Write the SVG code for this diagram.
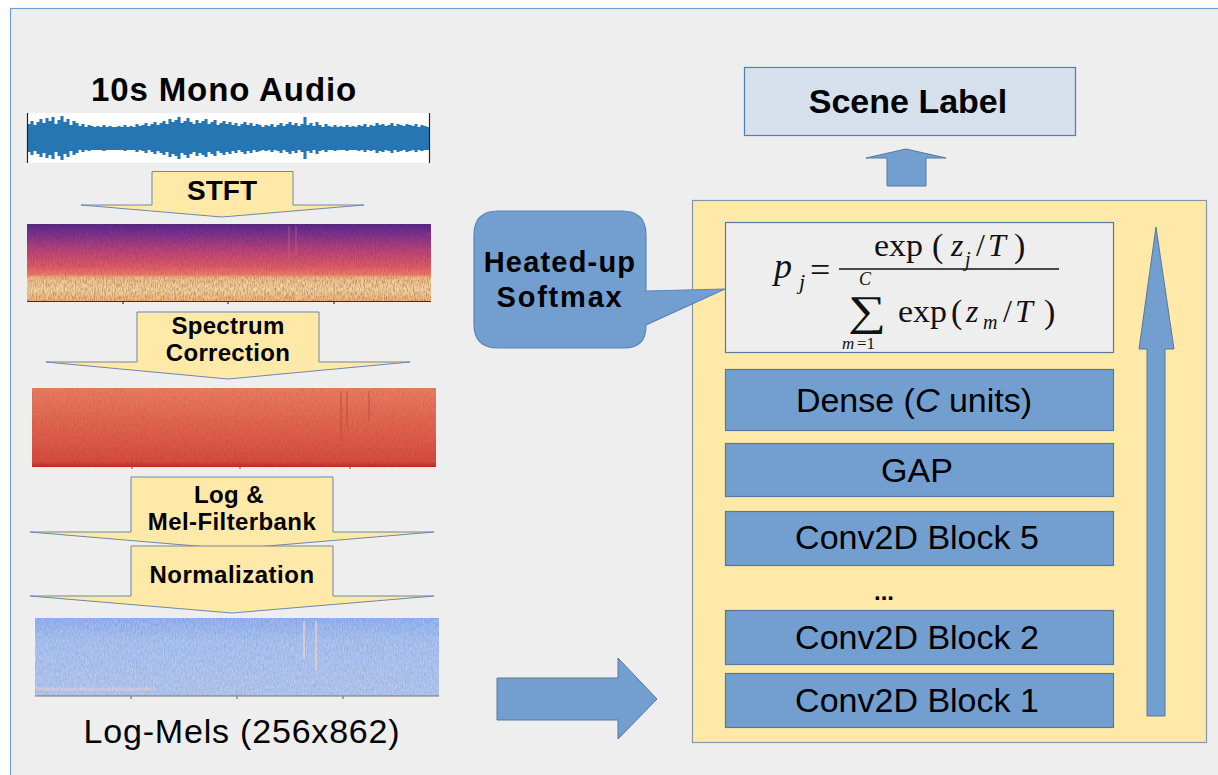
<svg xmlns="http://www.w3.org/2000/svg" width="1218" height="775" viewBox="0 0 1218 775">
<defs>
<style>
.sans{font-family:"Liberation Sans",Arial,sans-serif;fill:#000}
.b{font-weight:bold}
.ser{font-family:"Liberation Serif","Times New Roman",serif;fill:#111}
.it{font-style:italic}
.step{fill:#ffe9a9;stroke:#6f87a6;stroke-width:1}
.blk{fill:#729fcf;stroke:#56789e;stroke-width:1.2}
.conn{fill:#729fcf;stroke:#56789e;stroke-width:1}
</style>
<linearGradient id="g1" x1="0" y1="0" x2="0" y2="1">
<stop offset="0" stop-color="#5a2883"/>
<stop offset="0.12" stop-color="#7a3190"/>
<stop offset="0.35" stop-color="#bb4479"/>
<stop offset="0.55" stop-color="#de5a66"/>
<stop offset="0.66" stop-color="#ec7c66"/>
<stop offset="0.7" stop-color="#f5bd8a"/>
<stop offset="0.85" stop-color="#f8d29c"/>
<stop offset="1" stop-color="#f2b47e"/>
</linearGradient>
<linearGradient id="g2" x1="0" y1="0" x2="0" y2="1">
<stop offset="0" stop-color="#ea7c62"/>
<stop offset="0.5" stop-color="#e0624e"/>
<stop offset="0.93" stop-color="#d64c3e"/>
<stop offset="1" stop-color="#c42a2a"/>
</linearGradient>
<linearGradient id="g3" x1="0" y1="0" x2="0" y2="1">
<stop offset="0" stop-color="#8aaced"/>
<stop offset="0.3" stop-color="#a3bdf0"/>
<stop offset="1" stop-color="#abc1ee"/>
</linearGradient>
<filter id="grain" x="0" y="0" width="1" height="1">
<feTurbulence type="fractalNoise" baseFrequency="0.9 0.25" numOctaves="2" seed="4" result="n"/>
<feColorMatrix in="n" type="matrix" values="0 0 0 0 0  0 0 0 0 0  0 0 0 0 0  0 0 0 1.8 -0.7" result="a"/>
<feComposite in="a" in2="SourceGraphic" operator="in"/>
</filter>
<filter id="grainw" x="0" y="0" width="1" height="1">
<feTurbulence type="fractalNoise" baseFrequency="0.9 0.3" numOctaves="2" seed="9" result="n"/>
<feColorMatrix in="n" type="matrix" values="0 0 0 0 1  0 0 0 0 1  0 0 0 0 1  0 0 0 1.8 -0.7" result="a"/>
<feComposite in="a" in2="SourceGraphic" operator="in"/>
</filter>
</defs>

<rect x="0" y="0" width="1218" height="775" fill="#ffffff"/>
<rect x="10.5" y="8.5" width="1230" height="800" fill="#eeeeee" stroke="#729fcf" stroke-width="1.2"/>

<g id="audio">
<text class="sans b" x="224" y="101" font-size="33" text-anchor="middle" letter-spacing="0.9">10s Mono Audio</text>
<rect x="27" y="113" width="403" height="50" fill="#ffffff"/>
<rect x="29" y="127" width="400" height="23" fill="#2676b3"/>
<path stroke="#2676b3" stroke-width="3.1" fill="none" d="M29 124v28M32 121v34M35 125v26M38 122v32M41 119v38M44 123v30M47 118v40M50 121v34M53 117v42M56 124v28M59 120v36M62 116v44M65 122v32M68 119v38M71 125v26M74 121v34M77 123v30M80 126v24M83 124v28M86 127v22M89 125v26M92 126v24M95 128v20M98 126v24M101 127v22M104 125v26M107 128v20M110 126v24M113 127v22M116 128v20M119 126v24M122 127v22M125 125v26M128 128v20M131 126v24M134 127v22M137 124v28M140 126v24M143 125v26M146 123v30M149 126v24M152 124v28M155 122v32M158 125v26M161 123v30M164 121v34M167 124v28M170 119v38M173 122v32M176 120v36M179 117v42M182 123v30M185 121v34M188 118v40M191 122v32M194 124v28M197 120v36M200 123v30M203 121v34M206 119v38M209 124v28M212 122v32M215 120v36M218 125v26M221 123v30M224 121v34M227 124v28M230 122v32M233 125v26M236 123v30M239 126v24M242 124v28M245 122v32M248 125v26M251 123v30M254 126v24M257 124v28M260 125v26M263 127v22M266 125v26M269 126v24M272 124v28M275 127v22M278 125v26M281 123v30M284 126v24M287 124v28M290 122v32M293 125v26M296 123v30M299 126v24M302 124v28M305 117v42M308 125v26M311 123v30M314 126v24M317 122v32M320 125v26M323 127v22M326 124v28M329 126v24M332 127v22M335 125v26M338 128v20M341 126v24M344 127v22M347 125v26M350 128v20M353 126v24M356 127v22M359 125v26M362 126v24M365 124v28M368 127v22M371 125v26M374 126v24M377 123v30M380 125v26M383 124v28M386 126v24M389 125v26M392 123v30M395 126v24M398 124v28M401 125v26M404 126v24M407 124v28M410 125v26M413 126v24M416 124v28M419 127v22M422 125v26M425 126v24M428 128v20"/>
<path d="M27.5 113v50M429.5 113v50" stroke="#222" stroke-width="1.2"/>
</g>

<g id="stft">
<polygon class="step" points="152,171.5 293,171.5 293,205 364,205 222,217 81,205 152,205"/>
<text class="sans b" x="222" y="200" font-size="28" text-anchor="middle">STFT</text>
</g>

<g id="spectrogram">
<rect x="27" y="224" width="404" height="77" fill="url(#g1)"/>
<rect x="27" y="224" width="404" height="77" fill="#300030" opacity="0.16" filter="url(#grain)"/>
<rect x="27" y="277" width="404" height="24" fill="#c04040" opacity="0.2" filter="url(#grain)"/>
<path d="M289 226v40M296 226v30" stroke="#d06070" stroke-width="1.5" opacity="0.5"/>
<path d="M27 301.5h404M123 301v3M228 301v3M334 301v3" stroke="#333" stroke-width="1.2"/>
</g>

<g id="correction">
<polygon class="step" points="137,312 319,312 319,362 410,362 228,379 46,362 137,362"/>
<text class="sans b" x="228" y="334" font-size="24" text-anchor="middle" letter-spacing="0.3">Spectrum</text>
<text class="sans b" x="228" y="361" font-size="24" text-anchor="middle" letter-spacing="0.3">Correction</text>
</g>

<g id="corrected">
<rect x="32" y="388" width="404" height="79" fill="url(#g2)"/>
<rect x="32" y="388" width="404" height="79" fill="#8a1010" opacity="0.1" filter="url(#grain)"/>
<path d="M341 391v50M347 391v35M369 391v30" stroke="#b84034" stroke-width="2" opacity="0.35"/>
<path d="M132 467v2M240 467v2M350 467v2" stroke="#555" stroke-width="1"/>
</g>

<g id="logmel-step">
<polygon class="step" points="131,477 333,477 333,532 434,532 232,549 30,532 131,532"/>
<text class="sans b" x="229" y="503" font-size="24" text-anchor="middle" letter-spacing="0.4">Log &amp;</text>
<text class="sans b" x="232" y="530" font-size="24" text-anchor="middle" letter-spacing="0.4">Mel-Filterbank</text>
</g>

<g id="normalization">
<polygon class="step" points="131,546 333,546 333,596 434,596 232,613 30,596 131,596"/>
<text class="sans b" x="232" y="583" font-size="24" text-anchor="middle" letter-spacing="0.5">Normalization</text>
</g>

<g id="logmels">
<rect x="35" y="618" width="404" height="78" fill="url(#g3)"/>
<rect x="35" y="618" width="404" height="78" fill="#fff" opacity="0.3" filter="url(#grainw)"/>
<rect x="35" y="618" width="404" height="78" fill="#2050c0" opacity="0.1" filter="url(#grain)"/>
<path d="M304 621v38M316 621v50" stroke="#f0d0c0" stroke-width="2" opacity="0.7"/>
<path d="M36 689h120" stroke="#e8cfc8" stroke-width="3" opacity="0.5"/>
<path d="M35 696h404M131 696v3M237 696v3M343 696v3" stroke="#777" stroke-width="1.2"/>
<text class="sans" x="242" y="743" font-size="34" text-anchor="middle" letter-spacing="0.8">Log-Mels (256x862)</text>
</g>

<g id="model">
<rect x="692.5" y="200.5" width="514" height="542" fill="#ffe9a9" stroke="#8797ab" stroke-width="1.2"/>
</g>

<g id="formula">
<rect x="725.5" y="222.5" width="388" height="130" fill="#eeeeee" stroke="#5d7896" stroke-width="1.2"/>
<text class="ser it" x="774" y="278" font-size="36">p</text>
<text class="ser it" x="799" y="289" font-size="22">j</text>
<text class="ser" x="810" y="282" font-size="36">=</text>
<line x1="839" y1="269" x2="1059" y2="269" stroke="#111" stroke-width="1.4"/>
<text class="ser" x="874" y="256" font-size="32" textLength="49" lengthAdjust="spacingAndGlyphs">exp</text>
<text class="ser" x="932" y="257" font-size="34">(</text>
<text class="ser it" x="951" y="256" font-size="32">z</text>
<text class="ser it" x="965" y="266" font-size="20">j</text>
<text class="ser" x="976" y="256" font-size="32">/</text>
<text class="ser it" x="988" y="256" font-size="32">T</text>
<text class="ser" x="1014" y="257" font-size="34">)</text>
<text class="ser it" x="859" y="285" font-size="18">C</text>
<text class="ser" x="848" y="325" font-size="42" textLength="38" lengthAdjust="spacingAndGlyphs">∑</text>
<text class="ser it" x="842" y="349" font-size="17">m</text>
<text class="ser" x="857" y="349" font-size="17">=1</text>
<text class="ser" x="898" y="322" font-size="32" textLength="49" lengthAdjust="spacingAndGlyphs">exp</text>
<text class="ser" x="951" y="323" font-size="34">(</text>
<text class="ser it" x="966" y="322" font-size="32">z</text>
<text class="ser it" x="983" y="329" font-size="20">m</text>
<text class="ser" x="1003" y="322" font-size="32">/</text>
<text class="ser it" x="1015" y="322" font-size="32">T</text>
<text class="ser" x="1044" y="323" font-size="34">)</text>
</g>

<g id="dense">
<rect class="blk" x="725.5" y="369.5" width="388" height="61"/>
<text class="sans" x="914" y="412" font-size="34" text-anchor="middle">Dense (<tspan font-style="italic">C</tspan> units)</text>
</g>
<g id="gap">
<rect class="blk" x="725.5" y="443.5" width="388" height="53"/>
<text class="sans" x="917" y="482" font-size="34" text-anchor="middle">GAP</text>
</g>
<g id="conv5">
<rect class="blk" x="725.5" y="511.5" width="388" height="54"/>
<text class="sans" x="917" y="549" font-size="34" text-anchor="middle">Conv2D Block 5</text>
</g>
<g id="dots">
<text class="sans b" x="884" y="600" font-size="24" text-anchor="middle">...</text>
</g>
<g id="conv2">
<rect class="blk" x="725.5" y="610.5" width="388" height="54"/>
<text class="sans" x="917" y="649" font-size="34" text-anchor="middle">Conv2D Block 2</text>
</g>
<g id="conv1">
<rect class="blk" x="725.5" y="673.5" width="388" height="54"/>
<text class="sans" x="917" y="712" font-size="34" text-anchor="middle">Conv2D Block 1</text>
</g>

<g id="softmax-callout">
<path d="M498 211H622Q646 211 646 235V291L725 289L646 325V326Q646 348 624 348H498Q474 348 474 324V235Q474 211 498 211Z" fill="#729fcf" stroke="#5b84b8" stroke-width="1.2"/>
<text class="sans b" x="560" y="272" font-size="29" text-anchor="middle" letter-spacing="1.2">Heated-up</text>
<text class="sans b" x="560" y="307" font-size="29" text-anchor="middle" letter-spacing="1.8">Softmax</text>
</g>

<g id="scene-label">
<rect x="744.5" y="67.5" width="331" height="68" fill="#d6e0ec" stroke="#4f7fb8" stroke-width="1.2"/>
<text class="sans b" x="908" y="113" font-size="34" text-anchor="middle">Scene Label</text>
</g>

<g id="connectors">
<polygon class="conn" points="497,678 618,678 618,658 657,699 618,739 618,720 497,720"/>
<polygon class="conn" points="1147,716 1147,349 1139,349 1156,227 1174,349 1165,349 1165,716"/>
<polygon class="conn" points="887,186 887,158 866,158 906,149 946,158 926,158 926,186"/>
</g>
</svg>
